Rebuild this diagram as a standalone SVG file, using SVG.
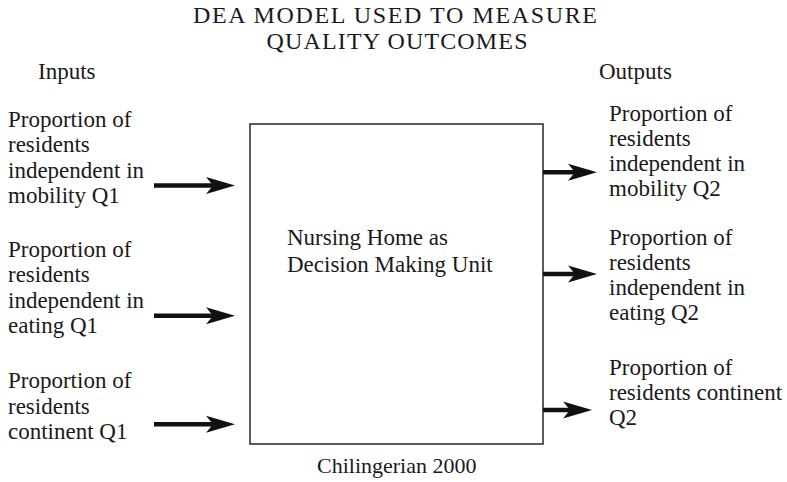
<svg xmlns="http://www.w3.org/2000/svg" width="787" height="482" viewBox="0 0 787 482">
<style>
  text { font-family: "Liberation Serif", "Times New Roman", serif; fill: #1a1a1a; }
  .t { font-size: 23px; }
  .title { font-size: 24px; }
  .shaft { stroke: #111; stroke-width: 4.5; fill: none; }
  .head { fill: #111; }
  .box { fill: #fff; stroke: #333; stroke-width: 1.6; }
</style>
<rect width="787" height="482" fill="#fff"/>
<g id="title">
  <text class="title" x="395" y="22.5" text-anchor="middle" textLength="404" lengthAdjust="spacing">DEA MODEL USED TO MEASURE</text>
  <text class="title" x="397" y="49" text-anchor="middle" textLength="261" lengthAdjust="spacing">QUALITY OUTCOMES</text>
</g>
<g id="inputs-label"><text class="t" x="38" y="79">Inputs</text></g>
<g id="outputs-label"><text class="t" x="599" y="79">Outputs</text></g>
<g id="dmu">
  <rect class="box" x="250" y="124" width="293" height="320"/>
  <text class="t" x="287" y="245">Nursing Home as</text>
  <text class="t" x="287" y="271.5">Decision Making Unit</text>
</g>
<g id="in1">
  <text class="t" x="8" y="126.7">Proportion of</text>
  <text class="t" x="8" y="152.3">residents</text>
  <text class="t" x="8" y="177.8">independent in</text>
  <text class="t" x="8" y="203.3">mobility Q1</text>
</g>
<g id="in2">
  <text class="t" x="8" y="256.7">Proportion of</text>
  <text class="t" x="8" y="282">residents</text>
  <text class="t" x="8" y="307.5">independent in</text>
  <text class="t" x="8" y="333">eating Q1</text>
</g>
<g id="in3">
  <text class="t" x="8" y="388">Proportion of</text>
  <text class="t" x="8" y="413.5">residents</text>
  <text class="t" x="8" y="439">continent Q1</text>
</g>
<g id="out1">
  <text class="t" x="609" y="121">Proportion of</text>
  <text class="t" x="609" y="146">residents</text>
  <text class="t" x="609" y="171">independent in</text>
  <text class="t" x="609" y="196">mobility Q2</text>
</g>
<g id="out2">
  <text class="t" x="609" y="245">Proportion of</text>
  <text class="t" x="609" y="270">residents</text>
  <text class="t" x="609" y="295">independent in</text>
  <text class="t" x="609" y="320">eating Q2</text>
</g>
<g id="out3">
  <text class="t" x="609" y="375">Proportion of</text>
  <text class="t" x="609" y="400">residents continent</text>
  <text class="t" x="609" y="425">Q2</text>
</g>
<g id="caption"><text x="317" y="473" style="font-size:22px">Chilingerian 2000</text></g>
<g id="connectors">
  <line class="shaft" x1="154" y1="185.5" x2="214" y2="185.5"/>
  <path class="head" d="M206,177 L235,185.5 L206,194 L213,185.5 Z"/>
  <line class="shaft" x1="154" y1="315.7" x2="214" y2="315.7"/>
  <path class="head" d="M206,307.2 L235,315.7 L206,324.2 L213,315.7 Z"/>
  <line class="shaft" x1="154" y1="424.3" x2="214" y2="424.3"/>
  <path class="head" d="M206,415.8 L235,424.3 L206,432.8 L213,424.3 Z"/>
  <line class="shaft" x1="543" y1="172.3" x2="576" y2="172.3"/>
  <path class="head" d="M568,163.8 L597,172.3 L568,180.8 L575,172.3 Z"/>
  <line class="shaft" x1="543" y1="274" x2="576" y2="274"/>
  <path class="head" d="M568,265.5 L597,274 L568,282.5 L575,274 Z"/>
  <line class="shaft" x1="543" y1="410" x2="571" y2="410"/>
  <path class="head" d="M563,401.5 L592,410 L563,418.5 L570,410 Z"/>
</g>
</svg>
